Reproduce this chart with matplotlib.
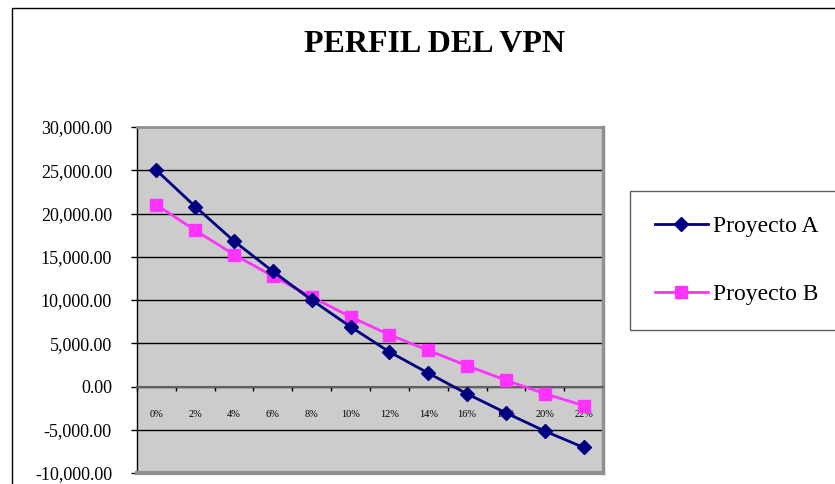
import matplotlib
matplotlib.use("Agg")
import matplotlib.pyplot as plt
from matplotlib.patches import Rectangle
from matplotlib.ticker import FixedLocator, FuncFormatter

categories = ["0%", "2%", "4%", "6%", "8%", "10%", "12%", "14%", "16%", "18%", "20%", "22%"]
proyecto_a = [25000, 20800, 16800, 13300, 10000, 6900, 4000, 1550, -850, -3050, -5150, -7050]
proyecto_b = [21000, 18050, 15250, 12750, 10350, 8050, 5980, 4180, 2400, 720, -830, -2200]
y_ticks = [-10000, -5000, 0, 5000, 10000, 15000, 20000, 25000, 30000]

plt.rcParams['font.family'] = ['Liberation Serif', 'DejaVu Serif']

fig = plt.figure(figsize=(8.35, 4.84), dpi=100)
fig.patch.set_facecolor('white')

# outer chart border
fig.add_artist(Rectangle((12/835, -0.1), 1.2, (484-8)/484 + 0.1, transform=fig.transFigure,
                         fill=False, edgecolor='black', linewidth=1.0))

ax = fig.add_axes([137/835, 11/484, (603-137)/835, (473-127)/484])
ax.set_facecolor('#cccccc')

x = list(range(len(categories)))
ax.plot(x, proyecto_a, color='#000080', marker='D', markersize=7.5, linewidth=2,
        label='Proyecto A', zorder=4)
ax.plot(x, proyecto_b, color='#ff33ff', marker='s', markersize=9, linewidth=2,
        label='Proyecto B', zorder=3)

ax.set_xlim(-0.5, len(categories) - 0.5)
ax.set_ylim(-10000, 30000)
ax.set_yticks(y_ticks)
ax.yaxis.set_major_formatter(FuncFormatter(lambda v, p: f"{v:,.2f}"))
ax.tick_params(axis='y', direction='out', length=4, width=1, labelsize=13, pad=14, color='black')

for v in y_ticks[1:-1]:
    ax.axhline(v, color='black', linewidth=1.0, zorder=1)

# x axis at zero
ax.spines['bottom'].set_position(('data', 0))
ax.spines['bottom'].set_color('#606060')
ax.spines['bottom'].set_linewidth(1.5)
ax.xaxis.set_major_locator(FixedLocator([i - 0.5 for i in range(len(categories) + 1)]))
ax.xaxis.set_major_formatter(FuncFormatter(lambda v, p: ""))
ax.xaxis.set_minor_locator(FixedLocator(x))
ax.set_xticklabels(categories, minor=True)
ax.tick_params(axis='x', which='major', direction='out', length=3, width=1, color='black')
ax.tick_params(axis='x', which='minor', length=0, labelsize=7.5, pad=17)

ax.spines['left'].set_color('black')
ax.spines['left'].set_linewidth(1.0)
ax.spines['top'].set_color('#909090')
ax.spines['top'].set_linewidth(2)
ax.spines['right'].set_color('#909090')
ax.spines['right'].set_linewidth(2.5)

# bottom frame line of plot area
ax.plot([0, 1], [0, 0], transform=ax.transAxes, color='#909090', linewidth=3, clip_on=False, zorder=5)

fig.text(435/835, 1 - 45/484, "PERFIL DEL VPN", ha='center', va='center',
         fontsize=23, fontweight='bold')

leg = fig.legend(loc='upper left', bbox_to_anchor=(630/835, 1 - 191/484),
                 fontsize=17, frameon=True, fancybox=False, handlelength=2.25,
                 labelspacing=1.95, borderpad=1.05, handletextpad=0.2, borderaxespad=0)
leg.get_frame().set_edgecolor('#333333')
leg.get_frame().set_linewidth(1.0)

fig.savefig('out.png', dpi=100)
